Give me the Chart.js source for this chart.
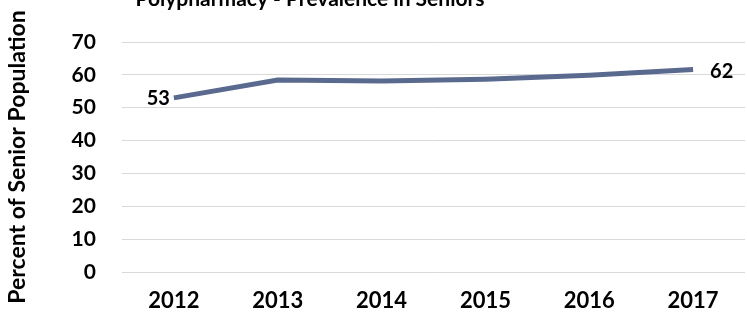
<!DOCTYPE html>
<html>
<head>
<meta charset="utf-8">
<script src="https://cdn.jsdelivr.net/npm/chart.js@4/dist/chart.umd.min.js"></script>
<style>
html,body{margin:0;padding:0;background:#fff;overflow:hidden;}
#wrap{position:relative;width:747px;height:317px;}
</style>
</head>
<body>
<div id="wrap"><canvas id="c" width="747" height="317"></canvas></div>
<script>
const titleText = "Polypharmacy - Prevalence in Seniors";
const yAxisTitle = "Percent of Senior Population";
const categories = ["2012", "2013", "2014", "2015", "2016", "2017"];
const prevalence = [53, 58.4, 58.1, 58.7, 59.9, 61.6];
const yTicks = [0, 10, 20, 30, 40, 50, 60, 70];
const labelledPoints = [0, 5];

const FONT = "Lato, 'Open Sans', sans-serif";

const titlePlugin = {
  id: 'cutTitle',
  afterDraw(chart) {
    const ctx = chart.ctx;
    ctx.save();
    ctx.font = "bold 21px " + FONT;
    ctx.fillStyle = "#000";
    ctx.textAlign = "center";
    ctx.textBaseline = "alphabetic";
    ctx.fillText(titleText, 310, 6);
    ctx.restore();
  }
};

const labelPlugin = {
  id: 'endLabels',
  afterDatasetsDraw(chart) {
    const ctx = chart.ctx;
    const meta = chart.getDatasetMeta(0);
    ctx.save();
    ctx.font = "bold 20px " + FONT;
    ctx.fillStyle = "#000";
    ctx.textBaseline = "middle";
    labelledPoints.forEach(i => {
      const pt = meta.data[i];
      const txt = String(Math.round(prevalence[i]));
      if (i === 0) {
        ctx.textAlign = "right";
        ctx.fillText(txt, pt.x - 4, pt.y + 1);
      } else {
        ctx.textAlign = "left";
        ctx.fillText(txt, pt.x + 17, pt.y + 2);
      }
    });
    ctx.restore();
  }
};

new Chart(document.getElementById('c'), {
  type: 'line',
  data: {
    labels: categories,
    datasets: [{
      data: prevalence,
      borderColor: '#5A6A8E',
      borderWidth: 5,
      pointRadius: 0,
      tension: 0,
      fill: false
    }]
  },
  options: {
    responsive: false,
    animation: false,
    layout: { padding: { top: 42, right: 2, bottom: 0, left: 0 } },
    plugins: {
      legend: { display: false },
      title: { display: false },
      tooltip: { enabled: false }
    },
    scales: {
      x: {
        offset: true,
        grid: { display: false, drawTicks: false },
        border: { display: false },
        ticks: { color: '#000', font: { family: FONT, size: 22, weight: 'bold' }, padding: 16, maxRotation: 0 },
        afterFit(scale) { scale.height = 45; }
      },
      y: {
        min: 0,
        max: 70,
        afterBuildTicks(axis) { axis.ticks = yTicks.map(v => ({ value: v })); },
        grid: { color: '#d9d9d9', lineWidth: 1, drawTicks: false },
        border: { display: false },
        ticks: { color: '#000', font: { family: FONT, size: 21, weight: 'bold' }, padding: 26 },
        title: {
          display: true,
          text: yAxisTitle,
          color: '#000',
          font: { family: FONT, size: 23, weight: 'bold' },
          padding: { top: 4, bottom: 14 }
        }
      }
    }
  },
  plugins: [titlePlugin, labelPlugin]
});
</script>
</body>
</html>
